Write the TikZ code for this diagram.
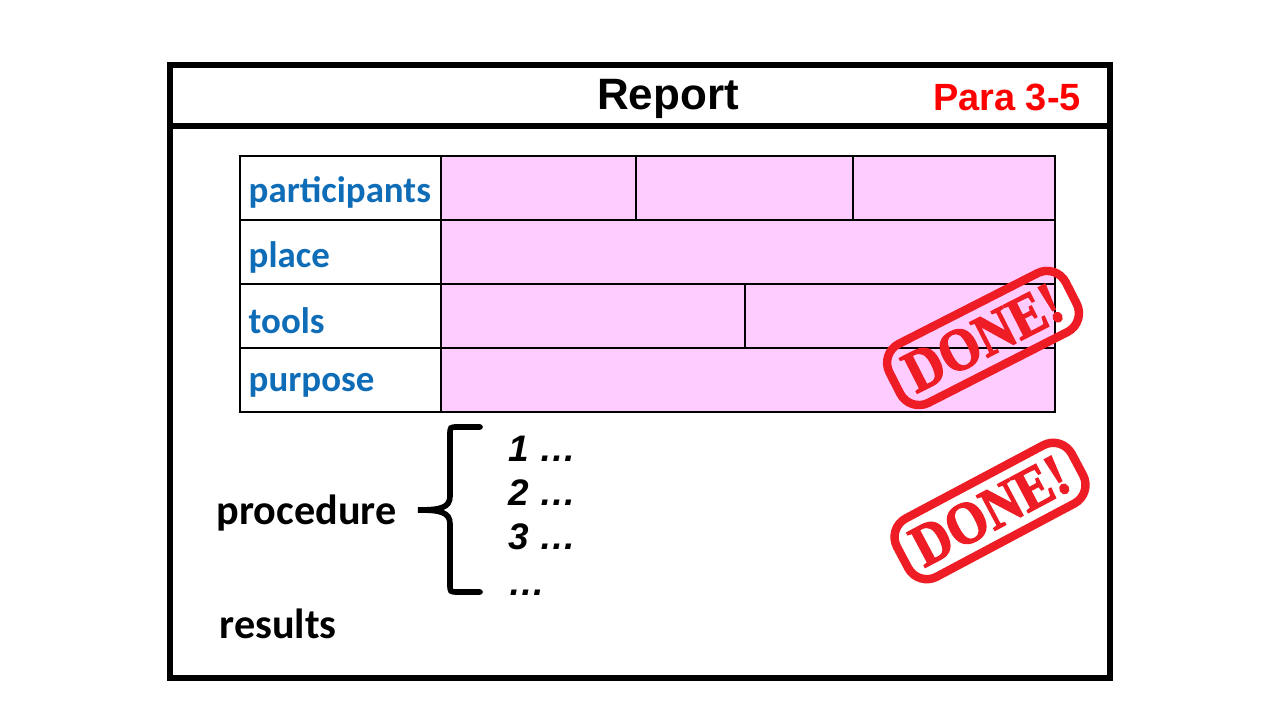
\documentclass[tikz,border=0pt]{standalone}
\usepackage{fontspec}
\setmainfont{Liberation Sans}
\newfontfamily\labelfont{Carlito}
\newfontfamily\stampfont[FakeBold=2.5]{Liberation Serif}
\usepackage{tikz}

\definecolor{cellpink}{HTML}{FFCCFF}
\definecolor{labelblue}{HTML}{0F6DB8}
\definecolor{stampred}{HTML}{EE1C24}

\newcommand{\stamptext}[1]{\scalebox{0.88}[1]{#1}}

\tikzset{
    cellline/.style={line width=0.3pt},
    rowlabel/.style={anchor=west, inner sep=0pt, text=labelblue, font=\labelfont\bfseries\fontsize{10.5}{12}\selectfont},
    sidelabel/.style={anchor=west, inner sep=0pt, font=\labelfont\bfseries\fontsize{12}{14}\selectfont},
    stepitem/.style={anchor=base west, inner sep=0pt, font=\bfseries\itshape\fontsize{10.5}{12}\selectfont},
    stampbox/.style={draw=stampred, line width=2.4pt, rounded corners=6pt, inner sep=0pt,
        minimum width=1.98cm, minimum height=0.66cm, text=stampred,
        font=\stampfont\bfseries\fontsize{17}{19}\selectfont}
}

\begin{document}
\begin{tikzpicture}
    \useasboundingbox[fill=white] (0,0) rectangle (12.8,7.2);

    % Report frame
    \draw[line width=1.7pt] (1.70,0.42) rectangle (11.10,6.55);
    \draw[line width=1.7pt] (1.70,5.94) -- (11.10,5.94);
    \node[font=\bfseries\fontsize{12.5}{14}\selectfont] (title) at (6.68,6.21) {Report};
    \node[font=\bfseries\fontsize{10.8}{12}\selectfont, text=red] (para) at (10.07,6.23) {Para 3-5};

    % Table cells
    \draw[cellline, fill=cellpink] (4.41,3.08) rectangle (10.55,5.64);
    \draw[cellline] (2.40,3.08) rectangle (10.55,5.64);
    \draw[cellline] (4.41,3.08) -- (4.41,5.64);
    \draw[cellline] (2.40,5.00) -- (10.55,5.00);
    \draw[cellline] (2.40,4.36) -- (10.55,4.36);
    \draw[cellline] (2.40,3.72) -- (10.55,3.72);
    \draw[cellline] (6.36,5.00) -- (6.36,5.64);
    \draw[cellline] (8.53,5.00) -- (8.53,5.64);
    \draw[cellline] (7.45,3.72) -- (7.45,4.36);

    % Row labels
    \node[rowlabel] (participants) at (2.48,5.28) {participants};
    \node[rowlabel] (place) at (2.48,4.63) {place};
    \node[rowlabel] (tools) at (2.48,3.99) {tools};
    \node[rowlabel] (purpose) at (2.48,3.35) {purpose};

    % Procedure and results
    \node[sidelabel] (procedure) at (2.16,2.07) {procedure};
    \node[sidelabel] (results) at (2.19,0.96) {results};

    % Brace
    \coordinate (bracetip) at (4.18,2.10);
    \draw[line width=1.6pt, line cap=round] (4.80,2.93) -- (4.58,2.93)
        .. controls (4.50,2.93) .. (4.50,2.85) -- (4.50,2.24)
        .. controls (4.50,2.12) and (4.40,2.10) .. (bracetip)
        .. controls (4.40,2.10) and (4.50,2.08) .. (4.50,1.96) -- (4.50,1.36)
        .. controls (4.50,1.28) .. (4.58,1.28) -- (4.80,1.28);

    % Steps
    \node[stepitem] (step1) at (5.08,2.58) {1 …};
    \node[stepitem] (step2) at (5.08,2.14) {2 …};
    \node[stepitem] (step3) at (5.08,1.70) {3 …};
    \node[stepitem] (stepmore) at (5.08,1.24) {…};

    % Stamps
    \node[stampbox, rotate=27] (done1) at (9.83,3.82) {\stamptext{DONE!}};
    \node[stampbox, rotate=28] (done2) at (9.90,2.09) {\stamptext{DONE!}};
\end{tikzpicture}
\end{document}
